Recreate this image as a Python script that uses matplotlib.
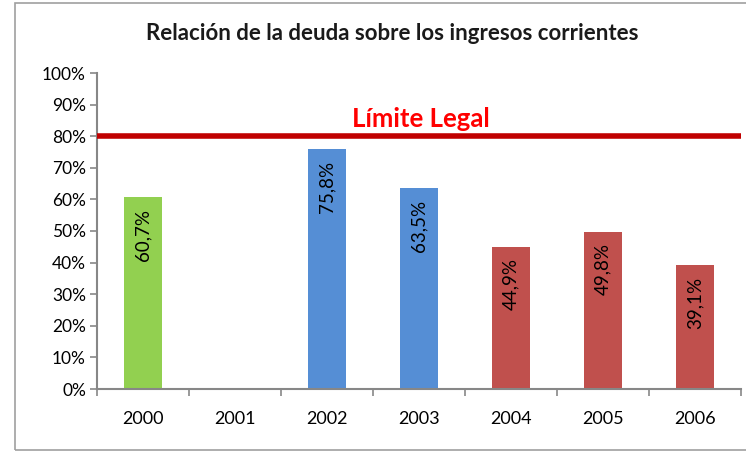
import matplotlib
matplotlib.use("Agg")
import matplotlib.pyplot as plt
from matplotlib.patches import Rectangle

years = ["2000", "2001", "2002", "2003", "2004", "2005", "2006"]
values = [60.7, None, 75.8, 63.5, 44.9, 49.8, 39.1]
labels = ["60,7%", "", "75,8%", "63,5%", "44,9%", "49,8%", "39,1%"]
colors = ["#92D050", "#558ED5", "#558ED5", "#558ED5", "#C0504D", "#C0504D", "#C0504D"]
limit = 80
limit_label = "Límite Legal"
title = "Relación de la deuda sobre los ingresos corrientes"
yticks = list(range(0, 101, 10))

plt.rcParams['font.family'] = ['Lato', 'DejaVu Sans']

fig = plt.figure(figsize=(7.46, 4.53), dpi=100)
ax = fig.add_axes([97/746, 1-389/453, (741-97)/746, (389-73)/453])

fig.patches.append(Rectangle((15/746, 3/453), 1.2, 447/453, transform=fig.transFigure,
                             fill=False, edgecolor="#A0A0A0", linewidth=1.2))

x = list(range(len(years)))
for i, (v, c, lab) in enumerate(zip(values, colors, labels)):
    if v is None:
        continue
    ax.bar(i, v, width=0.41, color=c, zorder=2)
    ax.text(i, v - 3.6, lab, rotation=90, ha="center", va="top", fontsize=13.5, color="black", zorder=3)

ax.axhline(limit, color="#C00000", linewidth=4, zorder=4)
ax.text(3.02, limit + 1.8, limit_label, ha="center", va="bottom", fontsize=18.5, color="#FF0000", fontweight="bold")

ax.set_xlim(-0.5, len(years) - 0.5)
ax.set_ylim(0, 100)
ax.set_yticks(yticks)
ax.set_yticklabels([f"{t}%" for t in yticks], fontsize=12.5)
ax.set_xticks(x)
ax.set_xticklabels(years, fontsize=13)
ax.set_xticks([i - 0.5 for i in range(len(years) + 1)], minor=True)
ax.tick_params(axis="x", which="major", length=0, pad=16)
ax.tick_params(axis="x", which="minor", length=5, color="#878787", width=1.2)
ax.tick_params(axis="y", length=5, color="#878787", width=1.2, pad=3)
for s in ["top", "right"]:
    ax.spines[s].set_visible(False)
for s in ["left", "bottom"]:
    ax.spines[s].set_color("#878787")
    ax.spines[s].set_linewidth(1.5)

fig.text(392/746, 1-33/453, title, ha="center", va="center", fontsize=16, fontweight="bold", color="#1a1a1a")

fig.savefig("out.png", dpi=100)
